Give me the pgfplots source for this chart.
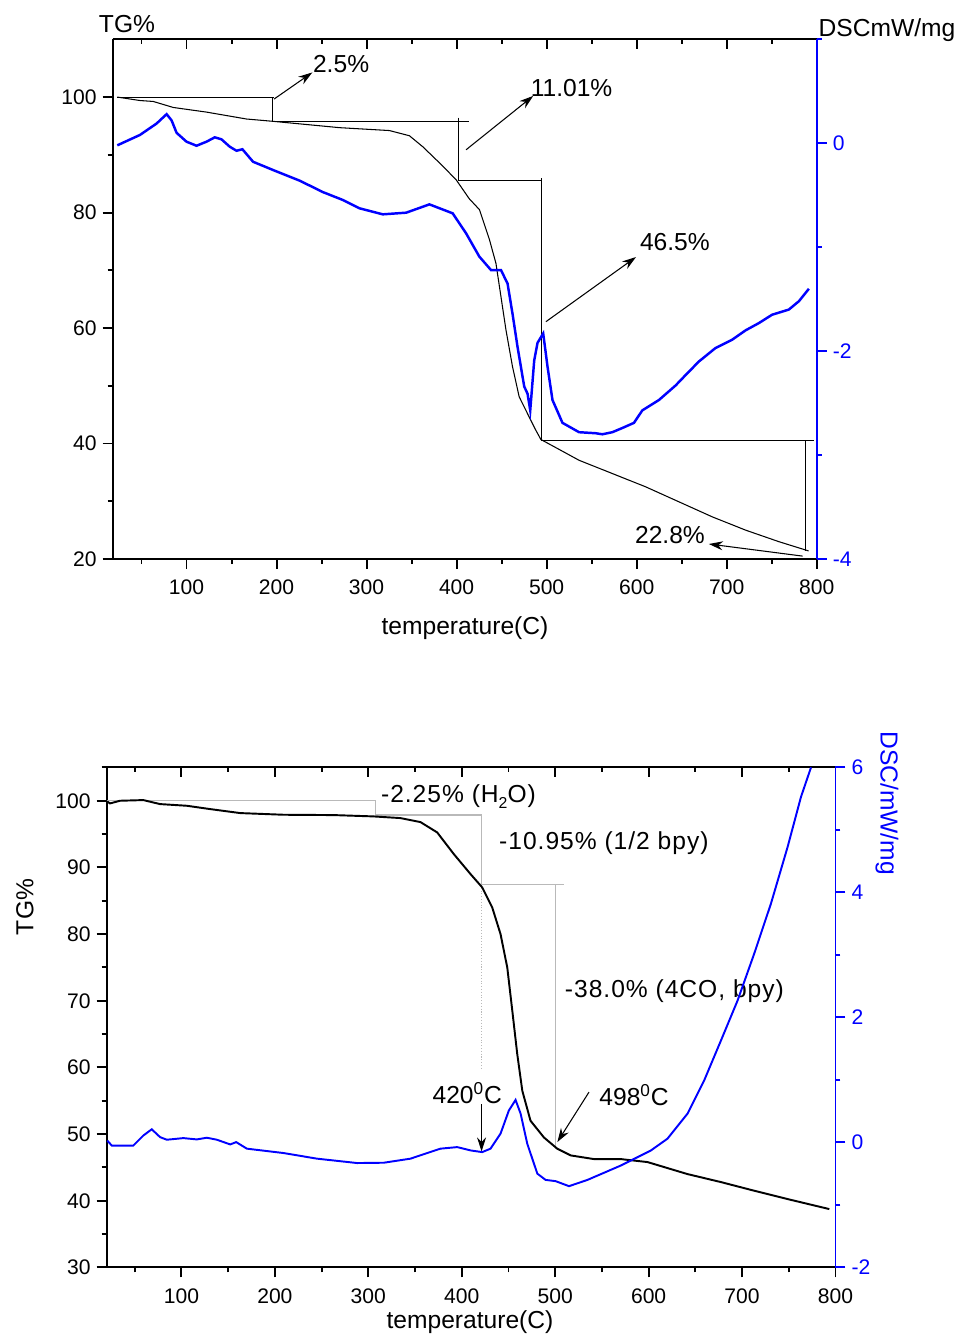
\documentclass[border=0pt]{standalone}
\usepackage{fontspec}
\setmainfont{Liberation Sans}
\newfontfamily\spaced[LetterSpace=4]{Liberation Sans}
\usepackage{pgfplots}
\pgfplotsset{compat=1.18}
\usetikzlibrary{arrows.meta}

\definecolor{dscblue}{RGB}{0,0,255}
\definecolor{annot}{RGB}{185,185,185}

\tikzset{ann/.style={font=\fontsize{14}{16}\selectfont},
  wide/.style={font=\fontsize{14}{16}\spaced}}
\pgfplotsset{
  base/.style={
    scale only axis,
    /pgf/number format/assume math mode=true,
    tick label style={font=\fontsize{12}{14}\selectfont},
    xticklabel style={yshift=-0.1cm},
    axis line style={-, line width=1.1pt},
    every outer x axis line/.append style={-},
    every outer y axis line/.append style={-},
    major tick length=0.2cm, minor tick length=0.1cm,
    tick style={line width=1.1pt, black},
  },
  top panel/.style={base, at={(2.254cm,-11.18cm)}, anchor=south west,
    width=14.08cm, height=10.394cm, xmin=18, xmax=800},
  bottom panel/.style={base, at={(2.134cm,-25.348cm)}, anchor=south west,
    width=14.576cm, height=10cm, xmin=20, xmax=800},
  xt/.style={xtick={100,200,...,800}, minor xtick={50,150,...,750}},
}

\begin{document}
\begin{tikzpicture}
\useasboundingbox (0,0) rectangle (19.26,-26.76);

% ---------- top panel: TG ----------
\begin{axis}[top panel, xt, ymin=20, ymax=110,
  axis x line*=bottom, axis y line*=left, tick align=outside,
  ytick={20,40,...,100}, minor ytick={30,50,70,90}]
\addplot[black, line width=0.6pt] coordinates {
(23,100) (48.3,99.4) (63,99.24) (85.2,98.2) (122,97.4) (166.6,96.2) (196,95.8)
(270,94.7) (325.4,94.2) (347.6,93.3) (362.4,91.4) (381,88.6) (399.4,85.7)
(414,82.4) (425.4,80.5) (436.5,75.3) (443.7,71.2) (449.3,65.4) (454.8,59.7)
(462.1,53.3) (469.5,48.1) (480.6,44.6) (488,42.3) (493.6,40.7) (536,37.1)
(573,34.8) (610,32.5) (647,29.9) (684,27.3) (721,25) (758,23) (791,21.4)};
% step lines and arrows
\draw[line width=0.6pt] (axis cs:23,100) -- (axis cs:197,100);
\draw[line width=0.6pt] (axis cs:196,100) -- (axis cs:196,95.77) -- (axis cs:413.3,95.77);
\draw[line width=0.6pt] (axis cs:402,96.46) -- (axis cs:402,85.49) -- (axis cs:494.7,85.49);
\draw[line width=0.6pt] (axis cs:494,85.96) -- (axis cs:494,40.49);
\draw[line width=0.6pt] (axis cs:493.6,40.49) -- (axis cs:796.6,40.49);
\draw[line width=0.6pt] (axis cs:787.4,40.49) -- (axis cs:787.4,21.4);
\draw[line width=0.6pt, -{Stealth[length=0.28cm,width=0.18cm]}] (axis cs:197.2,99.65) -- (axis cs:239.7,104.26);
\draw[line width=0.6pt, -{Stealth[length=0.28cm,width=0.18cm]}] (axis cs:410.5,90.87) -- (axis cs:485.1,100.2);
\draw[line width=0.6pt, -{Stealth[length=0.28cm,width=0.18cm]}] (axis cs:499.2,61.1) -- (axis cs:599.3,72.3);
\draw[line width=0.6pt, -{Stealth[length=0.28cm,width=0.18cm]}] (axis cs:784.4,20.5) -- (axis cs:680.2,22.6);
\node[ann] at (axis cs:271.7,105.7) {2.5\%};
\node[ann] at (axis cs:527.7,101.6) {11.01\%};
\node[ann] at (axis cs:642.5,74.9) {46.5\%};
\node[ann] at (axis cs:637,24.1) {22.8\%};
\end{axis}

% ---------- top panel: top ticks ----------
\begin{axis}[top panel, xt, ymin=0, ymax=1, hide y axis,
  axis x line*=top, tick align=inside, xticklabels={}]
\end{axis}

% ---------- top panel: DSC ----------
\begin{axis}[top panel, ymin=-4, ymax=1, hide x axis,
  axis y line*=right, tick align=outside,
  ytick={-4,-2,0}, minor ytick={-3,-1,1},
  y axis line style={dscblue}, tick style={dscblue},
  yticklabel style={text=dscblue}]
\addplot[dscblue, line width=1.4pt] coordinates {
(23.1,-0.02) (48.3,0.08) (66.8,0.19) (77.9,0.28) (83.4,0.22) (89,0.10) (100,0.015)
(111.1,-0.024) (122.2,0.015) (131.4,0.057) (138.8,0.038) (148,-0.033) (155.5,-0.072)
(162.1,-0.058) (173.9,-0.178) (196,-0.257) (225.7,-0.36) (251.5,-0.47) (273.7,-0.546)
(292.2,-0.626) (318,-0.684) (344,-0.668) (369.8,-0.588) (395.6,-0.674) (410.5,-0.866)
(425.2,-1.09) (438.2,-1.22) (449.3,-1.22) (456.6,-1.35) (462.1,-1.64) (467.7,-1.96)
(475.1,-2.34) (478.8,-2.41) (481.8,-2.57) (486.2,-2.09) (489.9,-1.92) (496.2,-1.83)
(501,-2.15) (506.5,-2.47) (517.6,-2.69) (536,-2.78) (554.6,-2.79) (561.9,-2.80)
(573,-2.78) (584,-2.74) (597,-2.69) (606.3,-2.57) (624.8,-2.47) (643.3,-2.33)
(654.4,-2.23) (669.1,-2.10) (687.6,-1.97) (706.1,-1.89) (721,-1.80) (735.8,-1.73)
(750.4,-1.65) (769.1,-1.60) (780.2,-1.52) (791.3,-1.40)};
\end{axis}

\node[ann] at (2.54,-0.48) {TG\%};
\node[ann] at (17.74,-0.6) {DSCmW/mg};
\node[ann] at (9.3,-12.56) {temperature(C)};

% ---------- bottom panel: TG ----------
\begin{axis}[bottom panel, xt, ymin=30, ymax=105,
  axis x line*=bottom, axis y line*=left, tick align=outside,
  ytick={30,40,...,100}, minor ytick={35,45,...,105}]
\draw[annot, line width=0.6pt] (axis cs:20.3,100) -- (axis cs:307.6,100) -- (axis cs:307.6,97.86) -- (axis cs:421.2,97.86) -- (axis cs:421.2,87.37) -- (axis cs:509.4,87.37);
\draw[annot, line width=0.6pt] (axis cs:500.5,87.37) -- (axis cs:500.5,47.8);
\draw[annot, line width=0.6pt, densely dotted] (axis cs:421.2,87.37) -- (axis cs:421.2,59.6);
\addplot[black, line width=1.1pt] coordinates {
(20.6,99.9) (23.5,99.6) (34.3,100.0) (59.2,100.1) (77.1,99.5) (105.7,99.25) (130.7,98.75)
(162.9,98.15) (209.3,97.9) (262.9,97.85) (305.7,97.65) (334.3,97.4) (355.8,96.8)
(373.7,95.25) (391.5,92.0) (409.4,89.0) (421.9,87.0) (432.6,84.0) (441.5,80.0)
(448.7,75.0) (454.1,68.5) (459.4,62.0) (464.8,56.5) (473.6,52.0) (487.9,49.5)
(502.3,47.8) (516.6,46.8) (541.5,46.25) (570.2,46.25) (598.8,45.8) (641.6,44.0)
(677.4,42.8) (713.1,41.5) (748.8,40.25) (793.4,38.75)};
\draw[line width=0.6pt, -{Stealth[length=0.28cm,width=0.18cm]}] (axis cs:421.2,54.5) -- (axis cs:421.2,47.4);
\draw[line width=0.6pt, -{Stealth[length=0.28cm,width=0.18cm]}] (axis cs:536.2,56.3) -- (axis cs:502.3,48.8);
\node[ann] at (axis cs:405.9,56.2) {420\textsuperscript{0}C};
\node[ann] at (axis cs:584.4,55.9) {498\textsuperscript{0}C};
\node[wide, anchor=west, inner sep=0pt] at (axis cs:313.3,100.6) {-2.25\% (H\raisebox{-0.45ex}{\fontsize{9}{10}\selectfont 2}O)};
\node[wide, anchor=west, inner sep=0pt] at (axis cs:439.7,93.6) {-10.95\% (1/2 bpy)};
\node[wide, anchor=west, inner sep=0pt] at (axis cs:510.1,71.4) {-38.0\% (4CO, bpy)};
\end{axis}

% ---------- bottom panel: top ticks ----------
\begin{axis}[bottom panel, xt, ymin=0, ymax=1, hide y axis,
  axis x line*=top, tick align=inside, xticklabels={}]
\end{axis}

% ---------- bottom panel: DSC ----------
\begin{axis}[bottom panel, ymin=-2, ymax=6, hide x axis,
  axis y line*=right, tick align=outside,
  ytick={-2,0,...,6}, minor ytick={-1,1,3,5},
  y axis line style={dscblue}, tick style={dscblue},
  yticklabel style={text=dscblue}]
\addplot[dscblue, line width=1.1pt] coordinates {
(20.6,0.03) (25.4,-0.05) (48.5,-0.05) (59.2,0.11) (68.2,0.21) (77.1,0.085) (84.3,0.043)
(102.1,0.069) (116.5,0.048) (127.2,0.075) (137.9,0.043) (152.2,-0.032) (158.6,0.005)
(170,-0.10) (209.3,-0.17) (245.1,-0.26) (288,-0.33) (316.5,-0.325) (345.1,-0.26)
(363,-0.17) (377.2,-0.10) (395.1,-0.075) (409.4,-0.128) (421.9,-0.155) (430.8,-0.10)
(441.5,0.14) (450.4,0.51) (457.6,0.68) (463,0.46) (470.1,-0.02) (480.9,-0.50)
(489.8,-0.60) (500.5,-0.62) (514.8,-0.70) (534.5,-0.60) (570.2,-0.37) (602.3,-0.13)
(620.2,0.06) (641.6,0.46) (659.4,0.99) (677.4,1.63) (695.2,2.27) (713,3.02)
(730.9,3.82) (748.8,4.73) (763.1,5.53) (773.8,6.0)};
\end{axis}

\node[ann, rotate=90] at (0.5,-18.14) {TG\%};
\node[ann, rotate=-90, text=dscblue] at (17.74,-16.06) {DSC/mW/mg};
\node[ann] at (9.4,-26.44) {temperature(C)};
\end{tikzpicture}
\end{document}
